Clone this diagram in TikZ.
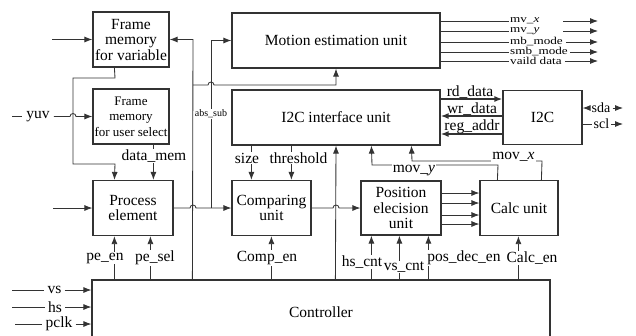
\documentclass[tikz,border=0pt]{standalone}
\usepackage{fontspec}
\usepackage{graphicx}
\setmainfont{Liberation Serif}
\usetikzlibrary{arrows.meta}
\newcommand\wtxt[1]{\scalebox{1.25}[1]{#1}}
\begin{document}
\begin{tikzpicture}[x=1pt,y=-1pt,
  blk/.style={draw=black!80, line width=1.2pt, fill=white, align=center,
    font=\fontsize{15.5}{15.5}\selectfont, inner sep=1pt},
  wire/.style={draw=black!80, line width=0.85pt},
  arr/.style={wire, -{Latex[length=8pt,width=6pt]}},
  busarr/.style={arr, line width=1.4pt},
  lbl/.style={font=\fontsize{15.5}{15.5}\selectfont, inner sep=1pt},
  lblw/.style={lbl, fill=white},
  sig/.style={font=\fontsize{10.5}{10.5}\selectfont, inner sep=1pt, anchor=west},
]
\useasboundingbox (0,0) rectangle (636,335);
\fill[white] (0,0) rectangle (636,335);
\clip (0,0) rectangle (636,335);

% blocks
\node[blk, minimum width=76, minimum height=55] (fmv) at (131,39.5) {Frame\\memory\\for variable};
\node[blk, minimum width=76, minimum height=55, font=\fontsize{13}{15.5}\selectfont] (fmus) at (131,116.5) {Frame\\memory\\for user select};
\node[blk, minimum width=80, minimum height=55] (pe) at (133,208) {Process\\element};
\node[blk, minimum width=208, minimum height=55] (me) at (336,40.5) {Motion estimation unit};
\node[blk, minimum width=208, minimum height=55] (i2cif) at (336,117.5) {I2C interface unit};
\node[blk, minimum width=79, minimum height=55] (cmp) at (271.5,208) {Comparing\\unit};
\node[blk, minimum width=80, minimum height=54] (pos) at (401,208) {Position\\elecision\\unit};
\node[blk, minimum width=78, minimum height=55] (calc) at (519,208) {Calc unit};
\node[blk, minimum width=79, minimum height=54] (i2c) at (542.5,117.5) {I2C};
\node[blk, minimum width=458, minimum height=65, fill=none] (ctl) at (321,312.5) {Controller};

% inputs of the frame memories
\coordinate (inA) at (52,39.5);
\draw[arr] (inA) -- (fmv.west);
\node[lbl, inner xsep=4pt] (yuv) at (38,116.5) {yuv};
\coordinate (yuvL) at (12,116.5);
\draw[wire] (yuvL) -- (yuv.west);
\draw[arr] (yuv.east) -- (70,116.5) arc[start angle=180,end angle=360,radius=3] -- (fmus.west);

% frame memories to process element
\draw[arr] ([xshift=22pt]fmv.south west) -- (115,78) -- (73,78) -- (73,164) -- (115,164) -- ([xshift=22pt]pe.north west);
\draw[arr] ([xshift=61pt]fmus.south west) -- ([xshift=61pt]pe.north west);
\node[lblw] (datamem) at (154,156) {data\_mem};
\coordinate (inB) at (53,208);
\draw[arr] (inB) -- (pe.west);

% controller line to frame memory and motion estimation
\draw[arr] ([xshift=101pt]ctl.north west) -- (193,39.5) -- (fmv.east);
\coordinate (j1) at (193,85);
\draw[arr] (j1) -- (208,85) arc[start angle=180,end angle=360,radius=3] -- (336,85) -- (me.south);

% process element to comparing unit, abs_sub branch
\draw[arr] (pe.east) -- (190,208) arc[start angle=180,end angle=360,radius=3] -- (cmp.west);
\coordinate (j2) at (211,208);
\draw[arr] (j2) -- (211,40.5) -- (me.west);
\node[font=\fontsize{10}{10}\selectfont, inner sep=0.5pt, fill=white] (abssub) at (211,114) {abs\_sub};

% enables of the process element
\draw[arr] ([xshift=23pt]ctl.north west) -- ([xshift=22pt]pe.south west);
\draw[arr] ([xshift=59pt]ctl.north west) -- ([xshift=58pt]pe.south west);
\node[lblw] (peen) at (105,258) {pe\_en};
\node[lblw] (pesel) at (155,258) {pe\_sel};

% I2C interface unit to comparing unit
\draw[arr] ([xshift=20pt]i2cif.south west) -- ([xshift=20pt]cmp.north west);
\draw[arr] ([xshift=60pt]i2cif.south west) -- ([xshift=60pt]cmp.north west);
\node[lblw] (size) at (247,158) {size};
\node[lblw] (thr) at (298.5,158) {threshold};

% controller to I2C interface unit
\draw[arr] ([xshift=244pt]ctl.north west) -- (i2cif.south);

% comparing unit to position unit
\draw[arr] (cmp.east) -- (333,208) arc[start angle=180,end angle=360,radius=3] -- (pos.west);
\draw[arr] ([xshift=180pt]ctl.north west) -- ([xshift=40pt]cmp.south west);
\node[lblw] (compen) at (267,258) {Comp\_en};

% mov_y and mov_x feedback
\draw[arr] ([xshift=18pt]calc.north west) -- (498,165) -- (372,165) -- ([xshift=140pt]i2cif.south west);
\node[lblw, inner ysep=3pt] (movy) at (414,171) {mov\_\textit{y}};
\draw[arr] ([xshift=62pt]calc.north west) -- (542,161) -- (412,161) -- ([xshift=180pt]i2cif.south west);
\node[lblw] (movx) at (513.5,157) {mov\_\textit{x}};

% position unit inputs
\draw[arr] ([xshift=280pt]ctl.north west) -- ([xshift=11pt]pos.south west);
\draw[arr] ([xshift=308pt]ctl.north west) -- ([xshift=39pt]pos.south west);
\draw[arr] ([xshift=337pt]ctl.north west) -- ([xshift=68pt]pos.south west);
\node[lblw] (hscnt) at (362,262) {hs\_cnt};
\node[lblw] (vscnt) at (404,267) {vs\_cnt};
\node[lblw] (posen) at (464,258) {pos\_dec\_en};
\draw[arr] ([xshift=427pt]ctl.north west) -- ([xshift=39pt]calc.south west);
\node[lblw] (calcen) at (532,258) {Calc\_en};

% position unit to calc unit
\foreach \d in {15,5,-7,-16}
  \draw[arr] ([yshift=\d pt]pos.east) -- ([yshift=\d pt]calc.west);

% motion estimation outputs
\node[sig] (o1) at (509,21) {\wtxt{mv\_\textit{x}}};
\node[sig] (o2) at (509,31) {\wtxt{mv\_\textit{y}}};
\node[sig] (o3) at (509,42) {\wtxt{mb\_mode}};
\node[sig] (o4) at (509,52) {\wtxt{smb\_mode}};
\node[sig] (o5) at (509,61) {\wtxt{vaild data}};
\draw[wire] ([yshift=19.5pt]me.east) -- (o1.west);
\draw[wire] ([yshift=9.5pt]me.east) -- (o2.west);
\draw[wire] ([yshift=-1.5pt]me.east) -- (o3.west);
\draw[wire] ([yshift=-11.5pt]me.east) -- (o4.west);
\draw[wire] ([yshift=-20.5pt]me.east) -- (o5.west);
\coordinate (o1s) at (563,21);  \coordinate (o1e) at (598,21);
\coordinate (o2s) at (563,31);  \coordinate (o2e) at (598,31);
\coordinate (o3e) at (598,42);
\coordinate (o4e) at (598,52);
\coordinate (o5e) at (598,61);
\draw[arr] (o1s) -- (o1e);
\draw[arr] (o2s) -- (o2e);
\draw[arr] ([xshift=2pt]o3.east) -- (o3e);
\draw[arr] ([xshift=1pt]o4.east) -- (o4e);
\draw[arr] ([xshift=2pt]o5.east) -- (o5e);

% I2C interface unit and I2C
\draw[busarr] ([yshift=18.5pt]i2cif.east) -- ([yshift=18.5pt]i2c.west);
\draw[busarr] ([yshift=1.5pt]i2c.west) -- ([yshift=1.5pt]i2cif.east);
\draw[busarr] ([yshift=-16.5pt]i2c.west) -- ([yshift=-16.5pt]i2cif.east);
\node[lbl, anchor=base] (rd) at (470,96) {rd\_data};
\node[lbl, anchor=base] (wr) at (472,113) {wr\_data};
\node[lbl, anchor=base] (reg) at (472,130) {reg\_addr};

% I2C bus pins
\node[lbl, font=\fontsize{14}{14}\selectfont, inner xsep=2pt] (sda) at (601,108) {sda};
\coordinate (sdaR) at (623,108);
\draw[arr] (sda.west) -- ([yshift=9.5pt]i2c.east);
\draw[arr] (sda.east) -- (sdaR);
\node[lbl, font=\fontsize{14}{14}\selectfont, inner xsep=2pt] (scl) at (601.5,124) {scl};
\coordinate (sclR) at (623,124);
\draw[wire] ([yshift=-6.5pt]i2c.east) -- (scl.west);
\draw[arr] (scl.east) -- (sclR);

% controller inputs
\node[lbl, inner xsep=3pt] (vs) at (54.5,290) {vs};
\node[lbl, inner xsep=3pt] (hs) at (55,307) {hs};
\node[lbl, inner xsep=3pt] (pclk) at (59,324) {pclk};
\coordinate (vsL) at (12,290);
\coordinate (hsL) at (12,307);
\coordinate (pclkL) at (15,324);
\draw[wire] (vsL) -- (vs.west);
\draw[wire] (hsL) -- (hs.west);
\draw[wire] (pclkL) -- (pclk.west);
\draw[arr] (vs.east) -- ([yshift=22.5pt]ctl.west);
\draw[arr] (hs.east) -- ([yshift=5.5pt]ctl.west);
\draw[arr] (pclk.east) -- ([yshift=-11.5pt]ctl.west);
\end{tikzpicture}
\end{document}
